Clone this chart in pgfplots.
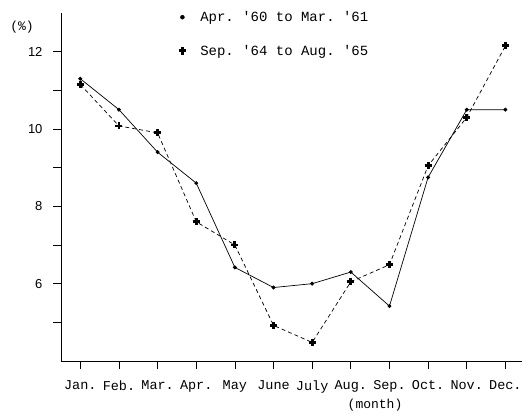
\documentclass[border=0pt]{standalone}
\usepackage{pgfplots}
\pgfplotsset{compat=1.18}
\usepackage{fontspec}
\setmainfont{Liberation Sans}
\setmonofont{Liberation Mono}
\begin{document}
\begin{tikzpicture}
\useasboundingbox (0pt,0pt) rectangle (524pt,414pt);
\begin{axis}[
  at={(61pt,53pt)}, anchor=south west,
  scale only axis, width=461pt, height=348pt,
  xmin=-0.5, xmax=11.43, ymin=4, ymax=13,
  axis lines=left,
  axis line style={-, line width=0.8pt},
  /pgf/number format/assume math mode=true,
  xtick={0,...,11},
  xticklabels={Jan.,Feb.,Mar.,Apr.,May,June,July,Aug.,Sep.,Oct.,Nov.,Dec.},
  ytick={6,8,10,12},
  minor ytick={5,7,9,11},
  tick align=outside,
  major tick length=8pt, minor tick length=8pt,
  tick style={black, line width=0.7pt},
  xticklabel style={font=\ttfamily\fontsize{13.5}{15}\selectfont, yshift=-8pt},
  yticklabel style={font=\fontsize{13}{15}\selectfont, xshift=-7pt},
  legend style={at={(axis description cs:0.244,1.011)}, anchor=north west,
    draw=none, fill=none, inner xsep=0pt, inner ysep=0pt, row sep=18pt,
    font=\ttfamily\fontsize{14}{16}\selectfont},
  legend cell align=left,
  legend image code/.code={\draw[#1] plot coordinates {(0.3cm,0cm)}; \path (0cm,0cm) (0.85cm,0cm);},
  clip=false,
]
\addlegendimage{only marks, mark=*, mark size=2pt, black}
\addlegendentry{Apr. '60 to Mar. '61}
\addlegendimage{only marks, mark=+, mark size=3.8pt, black, mark options={line width=3pt}}
\addlegendentry{Sep. '64 to Aug. '65}

\addplot[forget plot, black, line width=0.7pt, mark=*, mark size=1.6pt] coordinates {
 (0,11.3) (1,10.5) (2,9.4) (3,8.6) (4,6.42) (5,5.9) (6,6.0) (7,6.3) (8,5.42) (9,8.75) (10,10.5) (11,10.5)
};
\addplot[forget plot, black, line width=0.7pt, dash pattern=on 4pt off 3pt, mark=+, mark size=3.5pt, mark options={solid, line width=2.8pt}] coordinates {
 (0,11.15) (1,10.08) (2,9.9) (3,7.6) (4,7.0) (5,4.92) (6,4.48) (7,6.05) (8,6.49) (9,9.05) (10,10.3) (11,12.15)
};
\end{axis}
\node[font=\ttfamily\fontsize{13}{15}\selectfont] at (22pt,387pt) {(\%)};
\node[font=\ttfamily\fontsize{13}{15}\selectfont] at (375pt,9pt) {(month)};
\end{tikzpicture}
\end{document}
